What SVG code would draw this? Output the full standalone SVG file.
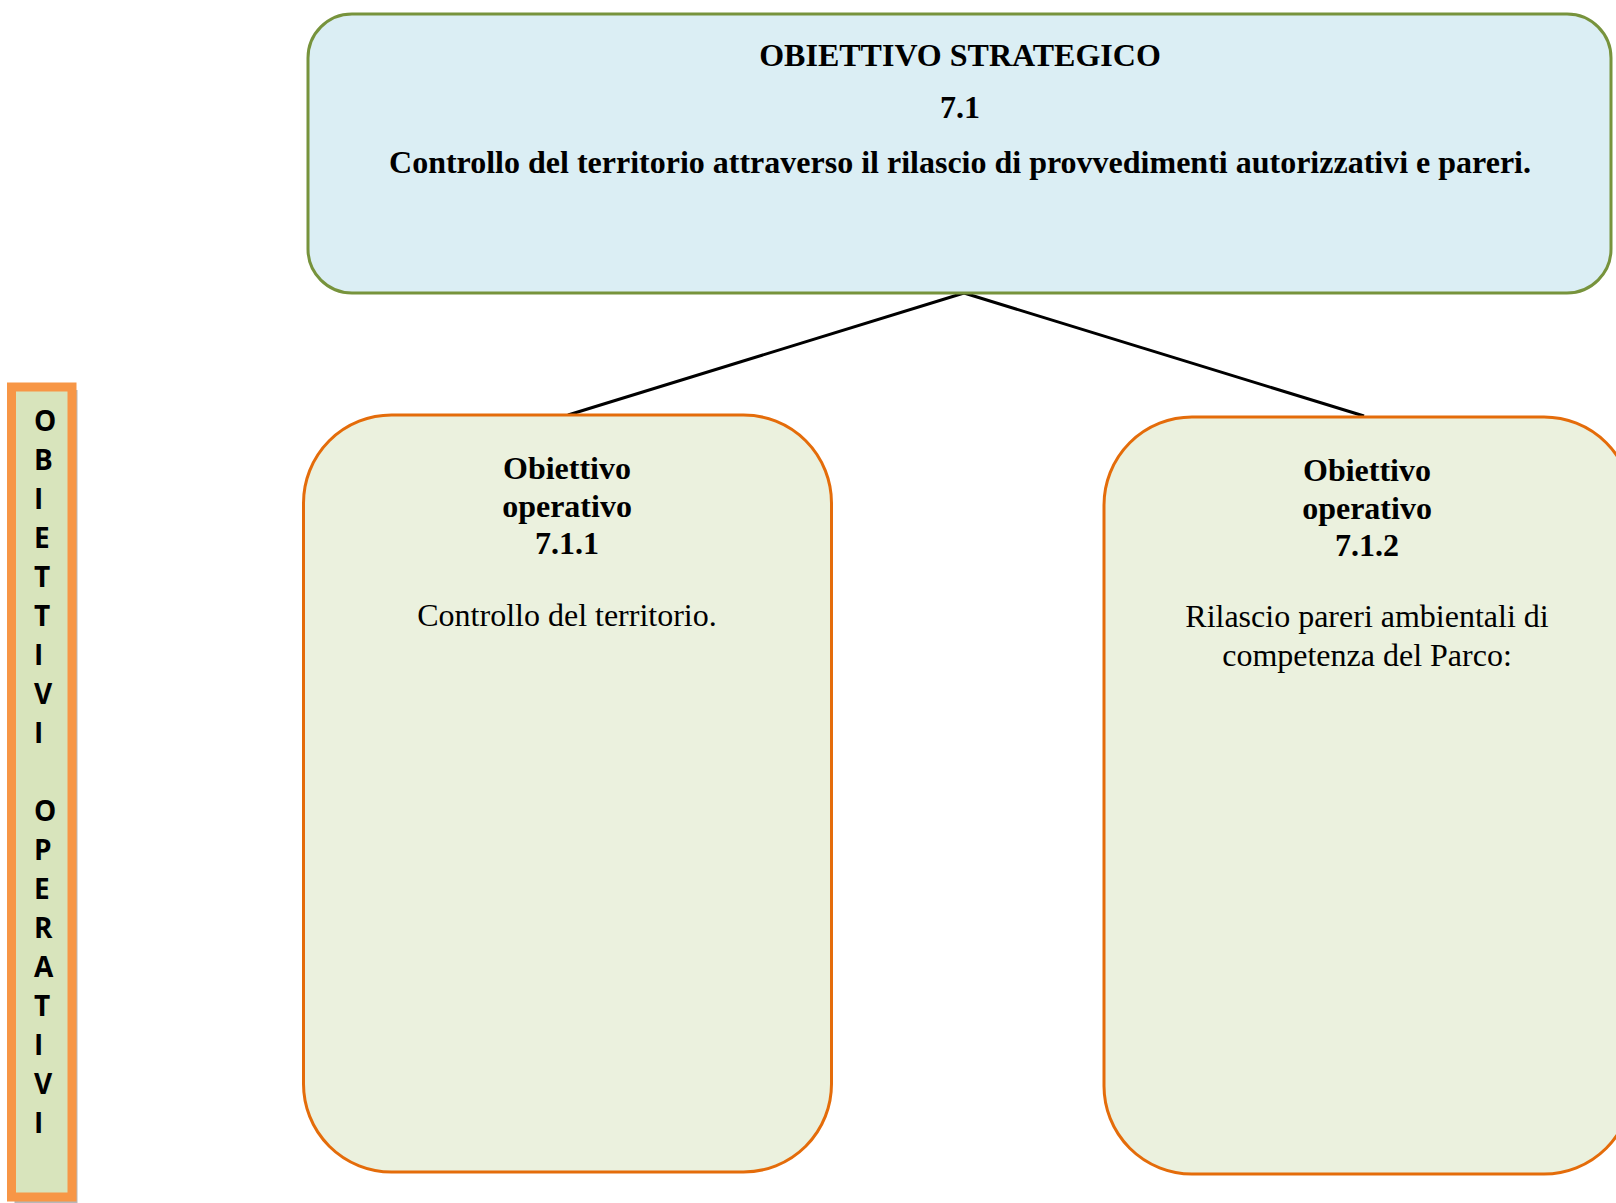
<svg xmlns="http://www.w3.org/2000/svg" width="1616" height="1203" viewBox="0 0 1616 1203">
  <style>
    .bold { font-family: "Liberation Serif", "Times New Roman", serif; font-weight: bold; font-size: 32px; fill: #000; }
    .reg { font-family: "Liberation Serif", "Times New Roman", serif; font-size: 32px; fill: #000; }
    .side { font-family: "Open Sans", "Liberation Sans", sans-serif; font-weight: bold; font-size: 28px; fill: #000; }
    .strat { fill: #DBEEF4; stroke: #77933C; stroke-width: 3; }
    .oper { fill: #EBF1DE; stroke: #E46C0A; stroke-width: 3; }
    .link { stroke: #000; stroke-width: 3; fill: none; }
  </style>

  <rect width="1616" height="1203" fill="#fff"/>

  <!-- vertical label bar -->
  <g id="side-label">
    <rect x="14.5" y="390" width="63" height="813" fill="#B7B7B7"/>
    <rect x="11.5" y="387" width="60.5" height="810" fill="#D8E4BC" stroke="#F79646" stroke-width="9"/>
    <text class="side" x="34">
      <tspan x="34" y="431">O</tspan>
      <tspan x="34" y="470">B</tspan>
      <tspan x="34" y="509">I</tspan>
      <tspan x="34" y="548">E</tspan>
      <tspan x="34" y="587">T</tspan>
      <tspan x="34" y="626">T</tspan>
      <tspan x="34" y="665">I</tspan>
      <tspan x="34" y="704">V</tspan>
      <tspan x="34" y="743">I</tspan>
      <tspan x="34" y="821">O</tspan>
      <tspan x="34" y="860">P</tspan>
      <tspan x="34" y="899">E</tspan>
      <tspan x="34" y="938">R</tspan>
      <tspan x="34" y="977">A</tspan>
      <tspan x="34" y="1016">T</tspan>
      <tspan x="34" y="1055">I</tspan>
      <tspan x="34" y="1094">V</tspan>
      <tspan x="34" y="1133">I</tspan>
    </text>
  </g>

  <!-- connectors -->
  <g id="connectors">
    <line class="link" x1="964" y1="293" x2="568" y2="415"/>
    <line class="link" x1="964" y1="293" x2="1364" y2="416"/>
  </g>

  <!-- strategic objective -->
  <g id="obiettivo-strategico">
    <rect class="strat" x="308" y="14" width="1303" height="279" rx="44" ry="44"/>
    <text class="bold" x="960" y="66" text-anchor="middle">OBIETTIVO STRATEGICO</text>
    <text class="bold" x="960" y="118" text-anchor="middle">7.1</text>
    <text class="bold" x="960" y="173" text-anchor="middle">Controllo del territorio attraverso il rilascio di provvedimenti autorizzativi e pareri.</text>
  </g>

  <!-- operative objective 7.1.1 -->
  <g id="obiettivo-711">
    <rect class="oper" x="303.5" y="415" width="528" height="757" rx="88" ry="88"/>
    <text class="bold" x="567" y="479" text-anchor="middle">Obiettivo</text>
    <text class="bold" x="567" y="517" text-anchor="middle">operativo</text>
    <text class="bold" x="567" y="554" text-anchor="middle">7.1.1</text>
    <text class="reg" x="567" y="626" text-anchor="middle">Controllo del territorio.</text>
  </g>

  <!-- operative objective 7.1.2 -->
  <g id="obiettivo-712">
    <rect class="oper" x="1104" y="417" width="528" height="757" rx="88" ry="88"/>
    <text class="bold" x="1367" y="481" text-anchor="middle">Obiettivo</text>
    <text class="bold" x="1367" y="519" text-anchor="middle">operativo</text>
    <text class="bold" x="1367" y="556" text-anchor="middle">7.1.2</text>
    <text class="reg" x="1367" y="627" text-anchor="middle">Rilascio pareri ambientali di</text>
    <text class="reg" x="1367" y="666" text-anchor="middle">competenza del Parco:</text>
  </g>
</svg>
